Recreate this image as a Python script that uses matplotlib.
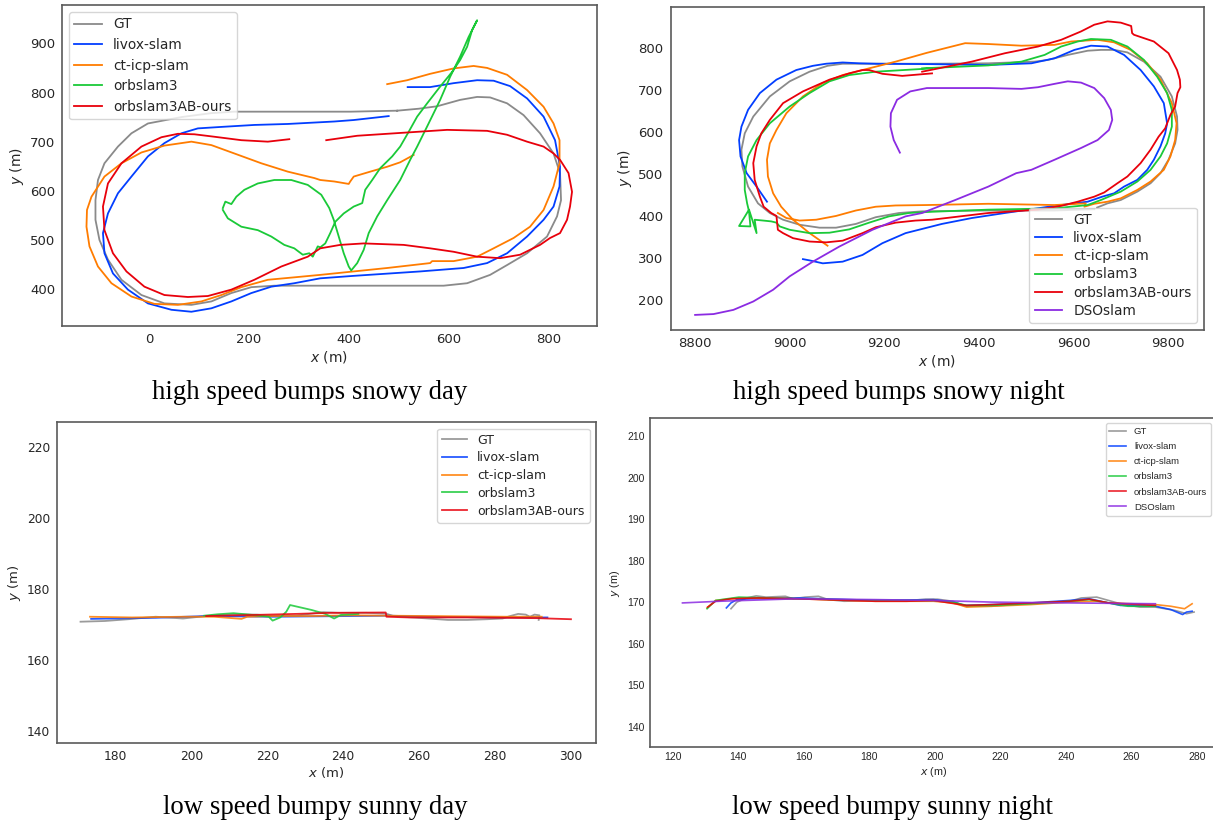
import matplotlib
matplotlib.use("Agg")
import matplotlib.pyplot as plt

# ---------------- panel 1 : high speed bumps snowy day ----------------
p1_gt_x = [497, 404, 326, 248, 170, 125, 65, -2, -35, -62, -89, -102, -107, -107, -99, -82, -55, -15, 31, 85,
           125, 165, 205, 251, 371, 482, 590, 637, 683, 717, 757, 797, 817, 825, 823, 810, 783, 750, 717, 683,
           657, 623, 577, 540, 497]
p1_gt_y = [763, 761, 761, 761, 761, 758, 750, 737, 717, 690, 656, 622, 581, 541, 500, 460, 419, 388, 371, 368,
           375, 392, 404, 407, 407, 407, 407, 412, 429, 449, 473, 507, 548, 581, 636, 676, 717, 754, 778, 790,
           791, 785, 772, 767, 763]
p1_livox_x = [480, 410, 371, 278, 211, 145, 98, 65, 31, -2, -35, -62, -82, -92, -89, -72, -42, -2, 45, 85, 125,
              165, 205, 245, 291, 343, 410, 543, 630, 677, 717, 757, 790, 810, 822, 823, 813, 790, 757, 723, 690,
              657, 610, 563, 518]
p1_livox_y = [752, 744, 741, 736, 734, 730, 727, 717, 697, 670, 629, 595, 554, 514, 473, 432, 399, 371, 358, 354,
              361, 375, 392, 405, 412, 422, 427, 436, 443, 453, 473, 507, 541, 568, 609, 649, 703, 751, 788, 813,
              824, 825, 819, 811, 811]
p1_cticp_x = [530, 503, 477, 443, 410, 403, 400, 371, 343, 331, 278, 225, 171, 125, 85, 31, -15, -55, -89, -115,
              -124, -125, -119, -102, -75, -35, 11, 58, 105, 145, 185, 238, 291, 343, 477, 563, 567, 610, 657, 690,
              730, 763, 790, 810, 822, 822, 810, 790, 757, 717, 677, 650, 610, 563, 517, 477]
p1_cticp_y = [673, 658, 649, 639, 629, 619, 614, 619, 622, 626, 639, 656, 676, 693, 700, 692, 678, 656, 629, 588,
              561, 527, 487, 446, 412, 385, 370, 368, 375, 388, 404, 419, 424, 429, 443, 453, 457, 457, 466, 483,
              504, 527, 561, 609, 656, 703, 737, 771, 805, 836, 850, 854, 849, 838, 825, 817]
p1_orb_x = [148, 153, 165, 175, 191, 218, 251, 285, 318, 345, 361, 370, 380, 390, 400, 405, 417, 430, 440, 457,
            477, 503, 523, 537, 557, 583, 603, 623, 640, 657, 647, 637, 623, 607, 583, 557, 537, 520, 503, 487,
            463, 447, 433, 427, 410, 390, 373, 363, 353, 343, 338, 328, 321, 308, 291, 271, 245, 218, 185, 158,
            148]
p1_orb_y = [565, 578, 573, 588, 602, 615, 622, 622, 612, 592, 565, 541, 507, 473, 446, 438, 453, 480, 514, 548,
            581, 622, 663, 690, 731, 785, 832, 873, 913, 947, 927, 893, 866, 842, 812, 778, 751, 720, 690, 670,
            646, 622, 602, 575, 568, 554, 537, 514, 493, 485, 487, 466, 473, 470, 483, 490, 507, 520, 527, 544,
            561]
p1_ours_x = [281, 238, 185, 131, 91, 58, 25, -15, -55, -82, -92, -89, -72, -45, -9, 31, 78, 118, 165, 211, 265,
             318, 343, 383, 430, 510, 563, 610, 657, 703, 743, 783, 803, 823, 837, 843, 847, 840, 823, 810, 790,
             757, 717, 677, 597, 417, 355]
p1_ours_y = [705, 700, 703, 710, 715, 716, 709, 690, 656, 615, 568, 520, 473, 436, 405, 388, 384, 386, 399, 419,
             446, 466, 483, 490, 493, 490, 483, 476, 466, 463, 470, 490, 504, 514, 541, 568, 598, 636, 663, 676,
             690, 700, 714, 722, 724, 712, 703]

# ---------------- panel 2 : high speed bumps snowy night ----------------
p2_gt_x = [9644, 9560, 9420, 9280, 9231, 9182, 9140, 9098, 9063, 9021, 8986, 8958, 8933, 8912, 8900, 8898, 8905,
           8923, 8958, 9000, 9042, 9080, 9112, 9300, 9420, 9518, 9546, 9588, 9630, 9658, 9686, 9714, 9749, 9784,
           9808, 9819, 9820, 9815, 9801, 9784, 9763, 9735, 9700, 9672, 9650]
p2_gt_y = [416, 413, 413, 411, 407, 397, 381, 372, 372, 379, 391, 407, 430, 470, 518, 558, 597, 637, 685, 721,
           744, 758, 763, 763, 764, 768, 772, 784, 794, 796, 796, 790, 768, 732, 685, 637, 605, 573, 534, 502, 478,
           458, 438, 430, 420]
p2_livox_x = [8952, 8930, 8909, 8896, 8893, 8898, 8912, 8937, 8972, 9014, 9049, 9077, 9112, 9147, 9182, 9301,
              9420, 9511, 9560, 9602, 9637, 9672, 9707, 9742, 9770, 9791, 9798, 9794, 9784, 9770, 9756, 9735, 9707,
              9686, 9661, 9630, 9602, 9560, 9455, 9385, 9322, 9301, 9245, 9196, 9154, 9112, 9070, 9042, 9028]
p2_livox_y = [434, 470, 502, 542, 581, 613, 653, 693, 725, 748, 758, 763, 766, 764, 763, 762, 760, 764, 776, 796,
              806, 804, 784, 748, 709, 669, 621, 597, 566, 534, 510, 486, 470, 454, 446, 434, 430, 424, 407, 395,
              381, 375, 359, 335, 307, 291, 287, 294, 297]
p2_cticp_x = [9080, 9042, 9007, 8982, 8965, 8954, 8952, 8958, 8972, 8993, 9028, 9070, 9112, 9168, 9224, 9290,
              9371, 9420, 9490, 9560, 9595, 9651, 9686, 9721, 9756, 9784, 9808, 9818, 9815, 9805, 9791, 9763, 9735,
              9700, 9672, 9644, 9623, 9626, 9560, 9420, 9290, 9224, 9182, 9140, 9098, 9056, 9021, 8993, 8975]
p2_cticp_y = [329, 359, 391, 422, 454, 494, 534, 573, 605, 645, 685, 717, 736, 752, 768, 789, 812, 810, 806, 808,
              816, 820, 814, 796, 764, 725, 669, 621, 581, 542, 510, 482, 462, 442, 434, 429, 422, 430, 426, 429,
              426, 425, 422, 413, 400, 391, 389, 395, 407]
p2_orb_x = [9301, 9182, 9126, 9084, 9042, 9000, 8958, 8930, 8912, 8905, 8905, 8910, 8914, 8917, 8893, 8914, 8930,
            8926, 8944, 8961, 8972, 8979, 9000, 9042, 9084, 9126, 9168, 9210, 9252, 9301, 9420, 9560, 9630, 9658,
            9700, 9735, 9763, 9784, 9798, 9808, 9808, 9798, 9777, 9749, 9714, 9679, 9637, 9609, 9574, 9539, 9490,
            9420, 9280]
p2_orb_y = [752, 744, 736, 721, 693, 661, 621, 581, 542, 502, 462, 430, 411, 375, 376, 415, 359, 391, 389, 387,
            384, 375, 367, 359, 360, 368, 384, 399, 407, 410, 415, 418, 426, 438, 458, 482, 510, 542, 573, 613,
            653, 693, 732, 772, 804, 820, 822, 816, 804, 784, 768, 759, 752]
p2_ours_x = [9301, 9238, 9196, 9168, 9154, 9126, 9084, 9028, 8986, 8958, 8940, 8930, 8923, 8926, 8937, 8945, 8961,
             8972, 8975, 8986, 9007, 9042, 9077, 9112, 9154, 9182, 9224, 9266, 9301, 9420, 9525, 9574, 9609, 9644,
             9665, 9693, 9714, 9742, 9763, 9780, 9794, 9805, 9815, 9820, 9826, 9825, 9819, 9801, 9770, 9728, 9724,
             9722, 9700, 9672, 9644, 9616, 9574, 9525, 9455, 9385, 9315, 9280]
p2_ours_y = [740, 734, 739, 748, 748, 740, 725, 697, 669, 629, 597, 566, 526, 486, 446, 422, 407, 400, 367, 359,
             347, 339, 337, 341, 359, 373, 384, 389, 391, 407, 415, 424, 434, 446, 456, 478, 494, 526, 558, 589,
             609, 641, 661, 693, 707, 725, 748, 788, 816, 832, 836, 853, 861, 864, 856, 840, 820, 804, 788, 768,
             752, 744]
p2_dso_x = [9233, 9220, 9213, 9214, 9227, 9255, 9290, 9315, 9350, 9420, 9490, 9525, 9560, 9588, 9616, 9644, 9665,
            9679, 9682, 9675, 9651, 9616, 9560, 9511, 9479, 9420, 9350, 9280, 9245, 9175, 9105, 9049, 9000, 8965,
            8923, 8881, 8839, 8800]
p2_dso_y = [551, 581, 613, 645, 677, 697, 705, 705, 705, 705, 703, 707, 715, 721, 718, 705, 681, 653, 629, 605,
            581, 562, 534, 510, 502, 470, 438, 407, 399, 367, 327, 291, 256, 224, 196, 176, 166, 164]

# ---------------- panel 3 : low speed bumpy sunny day ----------------
p3_gt_x = [170.8, 177.2, 183.4, 190.6, 197.8, 203.9, 211.1, 217.3, 221.4, 227.5, 234.7, 238.8, 246.0, 251.2,
           253.2, 258.4, 267.6, 272.7, 277.9, 282.0, 284.0, 286.1, 288.1, 289.2, 290.4, 291.7, 291.5]
p3_gt_y = [170.7, 170.9, 171.4, 172.1, 171.6, 172.3, 172.8, 172.7, 172.3, 172.4, 173.4, 173.2, 173.2, 173.0,
           172.3, 171.9, 171.2, 171.2, 171.4, 171.6, 172.3, 172.9, 172.7, 172.1, 172.7, 172.5, 171.2]
p3_livox_x = [173.6, 190.6, 203.9, 221.4, 241.9, 252.2, 262.5, 283.0, 293.8]
p3_livox_y = [171.5, 171.8, 172.3, 172.1, 172.3, 172.4, 172.1, 171.9, 171.9]
p3_cticp_x = [173.3, 184.4, 197.8, 206.0, 213.2, 214.7, 221.4, 231.7, 241.9, 251.2, 262.5, 283.0, 292.3]
p3_cticp_y = [172.1, 171.9, 172.1, 172.1, 171.5, 172.1, 172.3, 172.3, 172.5, 172.4, 172.3, 172.1, 172.1]
p3_orb_x = [203.4, 207.0, 211.1, 215.2, 220.4, 221.4, 223.4, 225.0, 226.0, 231.7, 235.3, 237.6, 239.4, 244.0]
p3_orb_y = [172.4, 172.8, 173.1, 172.7, 172.1, 171.0, 171.9, 173.5, 175.4, 174.0, 172.9, 171.6, 172.6, 172.9]
p3_ours_x = [203.9, 216.3, 227.5, 236.8, 251.2, 251.4, 257.3, 272.7, 291.2, 300.0]
p3_ours_y = [172.3, 172.6, 172.9, 173.2, 173.3, 172.1, 171.9, 171.9, 171.7, 171.4]

# ---------------- panel 4 : low speed bumpy sunny night ----------------
p4_gt_x = [137.8, 139.6, 142.6, 145.5, 148.5, 154.4, 156.8, 160.4, 164.5, 167.5, 172.3, 181.8, 192.4, 197.2,
           200.8, 205.5, 209.1, 213.8, 217.4, 220.9, 229.3, 235.2, 241.1, 244.7, 249.4, 253.0, 256.6, 260.1,
           262.5, 267.3, 273.2, 276.8, 279.1]
p4_gt_y = [168.4, 170.0, 171.0, 171.5, 171.2, 171.4, 170.8, 171.2, 171.4, 170.6, 170.2, 170.4, 170.4, 170.7,
           170.7, 170.2, 169.0, 169.0, 169.0, 169.2, 169.8, 169.8, 170.2, 171.0, 171.2, 170.4, 169.6, 169.1,
           168.8, 168.8, 168.0, 167.2, 167.6]
p4_livox_x = [136.4, 137.8, 139.6, 143.8, 158.0, 181.8, 199.6, 205.5, 209.1, 217.4, 229.3, 241.1, 247.1, 251.8,
              256.6, 267.3, 272.0, 275.6, 276.8, 278.5]
p4_livox_y = [168.6, 169.8, 170.6, 170.8, 171.0, 170.4, 170.6, 170.0, 169.2, 169.4, 169.8, 170.4, 170.8, 170.0,
              169.2, 169.0, 168.2, 167.0, 167.6, 167.8]
p4_cticp_x = [130.5, 133.1, 140.2, 158.0, 181.8, 199.6, 205.5, 209.7, 217.4, 229.3, 241.1, 249.4, 253.0, 267.3,
              272.0, 276.2, 278.5]
p4_cticp_y = [168.6, 170.4, 171.0, 170.8, 170.2, 170.2, 169.8, 168.8, 169.0, 169.4, 170.0, 170.2, 169.8, 169.4,
              169.0, 168.4, 169.6]
p4_orb_x = [130.5, 133.1, 140.2, 158.0, 181.8, 199.6, 205.5, 209.7, 217.4, 229.3, 241.1, 247.1, 253.0, 258.9,
            267.3]
p4_orb_y = [168.4, 170.4, 171.2, 170.8, 170.4, 170.4, 170.0, 169.2, 169.2, 169.6, 170.2, 170.6, 169.8, 169.0,
            169.0]
p4_ours_x = [130.7, 133.1, 137.8, 146.1, 158.0, 181.8, 191.3, 199.6, 206.1, 209.7, 217.4, 229.3, 241.1, 247.1,
             253.0, 267.3]
p4_ours_y = [168.8, 170.2, 170.8, 171.0, 170.8, 170.2, 170.2, 170.4, 169.6, 169.2, 169.4, 169.8, 170.2, 170.7,
             169.8, 169.2]
p4_dso_x = [123.0, 134.3, 158.0, 181.8, 199.6, 217.4, 241.1, 267.3]
p4_dso_y = [169.8, 170.2, 170.8, 170.6, 170.4, 170.0, 169.8, 169.6]

names = ["GT", "livox-slam", "ct-icp-slam", "orbslam3", "orbslam3AB-ours", "DSOslam"]
colors = ["#8a8a8a", "#023eff", "#ff7c00", "#1ac938", "#e8000b", "#8b2be2"]
captions = ["high speed bumps snowy day", "high speed bumps snowy night",
            "low speed bumpy sunny day", "low speed bumpy sunny night"]

plt.rcParams["axes.edgecolor"] = "#5a5a5a"
plt.rcParams["axes.linewidth"] = 1.2
plt.rcParams["text.color"] = "#262626"
plt.rcParams["axes.labelcolor"] = "#262626"
plt.rcParams["xtick.color"] = "#262626"
plt.rcParams["ytick.color"] = "#262626"

small = "Liberation Sans"

fig = plt.figure(figsize=(12.13, 8.21), dpi=100)


def style(ax, fs, family="DejaVu Sans", pad=5):
    ax.tick_params(length=0, pad=pad, labelsize=fs)
    for lab in ax.get_xticklabels() + ax.get_yticklabels():
        lab.set_family(family)


# panel 1
ax1 = fig.add_axes([62 / 1213, 1 - 326 / 821, 535 / 1213, 321 / 821])
series1 = [(p1_gt_x, p1_gt_y), (p1_livox_x, p1_livox_y), (p1_cticp_x, p1_cticp_y),
           (p1_orb_x, p1_orb_y), (p1_ours_x, p1_ours_y)]
for i, (xs, ys) in enumerate(series1):
    ax1.plot(xs, ys, color=colors[i], lw=1.3, label=names[i])
ax1.set_xlim(-174, 897)
ax1.set_ylim(325, 978)
ax1.set_xticks([0, 200, 400, 600, 800])
ax1.set_yticks([400, 500, 600, 700, 800, 900])
style(ax1, 9.5)
ax1.set_xlabel("$x$ (m)", fontsize=10, labelpad=2)
ax1.set_ylabel("$y$ (m)", fontsize=10, labelpad=3)
ax1.legend(loc="upper left", fontsize=9.9, labelspacing=0.48)

# panel 2
ax2 = fig.add_axes([670.5 / 1213, 1 - 330 / 821, 533.5 / 1213, 323.3 / 821])
series2 = [(p2_gt_x, p2_gt_y), (p2_livox_x, p2_livox_y), (p2_cticp_x, p2_cticp_y),
           (p2_orb_x, p2_orb_y), (p2_ours_x, p2_ours_y), (p2_dso_x, p2_dso_y)]
for i, (xs, ys) in enumerate(series2):
    ax2.plot(xs, ys, color=colors[i], lw=1.3, label=names[i])
ax2.set_xlim(8748, 9876)
ax2.set_ylim(128, 899)
ax2.set_xticks([8800, 9000, 9200, 9400, 9600, 9800])
ax2.set_yticks([200, 300, 400, 500, 600, 700, 800])
style(ax2, 9.5)
ax2.set_xlabel("$x$ (m)", fontsize=10, labelpad=2)
ax2.set_ylabel("$y$ (m)", fontsize=10, labelpad=3)
ax2.legend(loc="lower right", fontsize=9.9, labelspacing=0.3)

# panel 3
ax3 = fig.add_axes([57 / 1213, 1 - 742.7 / 821, 539 / 1213, 320.4 / 821])
series3 = [(p3_gt_x, p3_gt_y), (p3_livox_x, p3_livox_y), (p3_cticp_x, p3_cticp_y),
           (p3_orb_x, p3_orb_y), (p3_ours_x, p3_ours_y)]
for i, (xs, ys) in enumerate(series3):
    ax3.plot(xs, ys, color=colors[i], lw=1.3, alpha=0.85, label=names[i])
ax3.set_xlim(164.6, 306.6)
ax3.set_ylim(136.6, 226.9)
ax3.set_xticks([180, 200, 220, 240, 260, 280, 300])
ax3.set_yticks([140, 160, 180, 200, 220])
style(ax3, 8.8)
ax3.set_xlabel("$x$ (m)", fontsize=9.5, labelpad=2)
ax3.set_ylabel("$y$ (m)", fontsize=9.5, labelpad=3)
ax3.legend(loc="upper right", fontsize=9.0, labelspacing=0.38)

# panel 4
ax4 = fig.add_axes([649.7 / 1213, 1 - 747.3 / 821, 568.3 / 1213, 329 / 821])
series4 = [(p4_gt_x, p4_gt_y), (p4_livox_x, p4_livox_y), (p4_cticp_x, p4_cticp_y),
           (p4_orb_x, p4_orb_y), (p4_ours_x, p4_ours_y), (p4_dso_x, p4_dso_y)]
for i, (xs, ys) in enumerate(series4):
    ax4.plot(xs, ys, color=colors[i], lw=1.2, alpha=0.85, label=names[i])
ax4.set_xlim(113, 286.4)
ax4.set_ylim(135.0, 214.3)
ax4.set_xticks([120, 140, 160, 180, 200, 220, 240, 260, 280])
ax4.set_yticks([140, 150, 160, 170, 180, 190, 200, 210])
style(ax4, 7.5, family=small, pad=3.5)
ax4.set_xlabel("$x$ (m)", fontsize=7.8, labelpad=2, family=small)
ax4.set_ylabel("$y$ (m)", fontsize=7.8, labelpad=4, family=small)
ax4.legend(loc="upper right", bbox_to_anchor=(0.9877, 0.9848), borderaxespad=0,
           prop={"family": small, "size": 6.8}, handlelength=1.8, labelspacing=0.65)

# captions
cap_pos = [(309.5, 399), (899, 399), (315, 814), (893, 814)]
for (cx, cy), txt in zip(cap_pos, captions):
    fig.text(cx / 1213, 1 - cy / 821, txt, ha="center", va="baseline",
             family="Liberation Serif", fontsize=19.3, color="black")

fig.savefig("out.png", dpi=100)
